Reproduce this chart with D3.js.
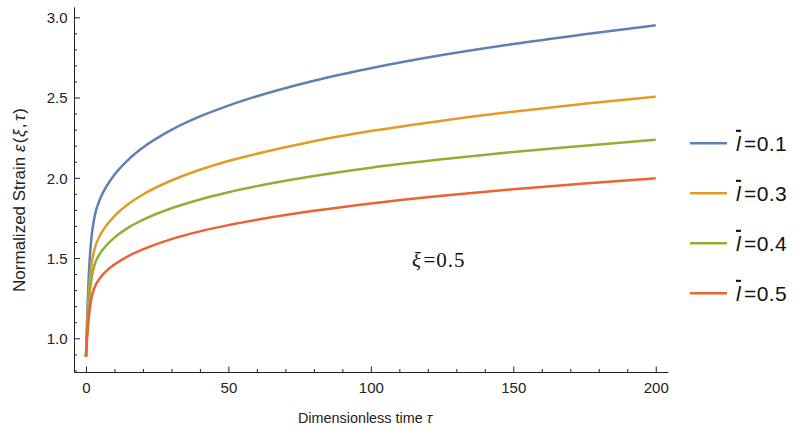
<!DOCTYPE html>
<html>
<head>
<meta charset="utf-8">
<script src="https://cdn.jsdelivr.net/npm/d3@7"></script>
<style>
  html, body { margin: 0; padding: 0; background: #fff; }
  svg { display: block; }
  .tick text { font-family: "Liberation Sans", Arial, sans-serif; font-size: 15px; fill: #222; }
</style>
</head>
<body>
<svg id="chart" width="797" height="434"></svg>
<script>
// Dimensionless time samples
const tau = [0, 0.25, 0.5, 1, 2, 3, 5, 7.5, 10, 15, 20, 30, 40, 50, 60, 80, 100, 125, 150, 175, 200];

// Normalized strain for each bar-l value
const strainL01 = [0.885, 1.031, 1.175, 1.396, 1.639, 1.756, 1.870, 1.955, 2.019, 2.115, 2.188, 2.298, 2.382, 2.450, 2.508, 2.605, 2.683, 2.765, 2.834, 2.894, 2.950];
const strainL03 = [0.885, 0.995, 1.106, 1.275, 1.464, 1.554, 1.643, 1.711, 1.761, 1.838, 1.896, 1.983, 2.050, 2.105, 2.150, 2.228, 2.291, 2.356, 2.412, 2.461, 2.505];
const strainL04 = [0.885, 0.980, 1.075, 1.219, 1.378, 1.456, 1.530, 1.585, 1.627, 1.691, 1.738, 1.810, 1.865, 1.910, 1.948, 2.011, 2.063, 2.115, 2.161, 2.200, 2.237];
const strainL05 = [0.885, 0.953, 1.023, 1.132, 1.256, 1.316, 1.378, 1.425, 1.460, 1.514, 1.554, 1.618, 1.666, 1.705, 1.738, 1.794, 1.840, 1.888, 1.929, 1.965, 1.997];

const seriesNames = ["0.1", "0.3", "0.4", "0.5"];
const seriesValues = [strainL01, strainL03, strainL04, strainL05];
const seriesColors = ["#5E81B5", "#E19C24", "#8FB032", "#EB6235"];

// Axis ticks
const xMajorTicks = [0, 50, 100, 150, 200];
const xMinorTicks = d3.range(0, 201, 10).filter(v => v % 50 !== 0);
const yMajorTicks = [1.0, 1.5, 2.0, 2.5, 3.0];
const yMinorTicks = d3.range(8, 31).map(v => v / 10).filter(v => Math.round(v * 10) % 5 !== 0);

const svg = d3.select("#chart");

const x = d3.scaleLinear().domain([-4.2, 204.2]).range([74, 667.7]);
const y = d3.scaleLinear().domain([0.79, 3.064]).range([372, 7]);

const axisColor = "#222";

function styleAxis(g) {
  g.selectAll(".domain").attr("stroke", axisColor).attr("stroke-width", 1);
  g.selectAll(".tick line").attr("stroke", axisColor).attr("stroke-width", 1);
}

// x axis: minor then major ticks, pointing into the plot
svg.append("g")
  .attr("transform", `translate(0,${y.range()[0]})`)
  .call(d3.axisBottom(x).tickValues(xMinorTicks).tickSize(-3).tickSizeOuter(0).tickFormat(""))
  .call(styleAxis);
const gx = svg.append("g")
  .attr("transform", `translate(0,${y.range()[0]})`)
  .call(d3.axisBottom(x).tickValues(xMajorTicks).tickSize(-5.5).tickSizeOuter(0).tickPadding(0).tickFormat(d3.format("d")))
  .call(styleAxis);
gx.selectAll(".tick text").attr("y", 20.5).attr("dy", 0);

// y axis
svg.append("g")
  .attr("transform", `translate(${x.range()[0]},0)`)
  .call(d3.axisLeft(y).tickValues(yMinorTicks).tickSize(-3).tickSizeOuter(0).tickFormat(""))
  .call(styleAxis);
const gy = svg.append("g")
  .attr("transform", `translate(${x.range()[0]},0)`)
  .call(d3.axisLeft(y).tickValues(yMajorTicks).tickSize(-6).tickSizeOuter(0).tickFormat(d3.format(".1f")))
  .call(styleAxis);
gy.selectAll(".tick text").attr("x", -6.5).attr("dy", "0.36em");

// Curves
const line = d3.line()
  .x((d, i) => x(tau[i]))
  .y(d => y(d))
  .curve(d3.curveMonotoneX);

const plot = svg.append("g");
seriesValues.forEach((vals, k) => {
  plot.append("path")
    .datum(vals)
    .attr("d", line)
    .attr("fill", "none")
    .attr("stroke", seriesColors[k])
    .attr("stroke-width", 2.5)
    .attr("stroke-linejoin", "round");
});

// Axis titles
const sans = "'Liberation Sans', Arial, sans-serif";
const xt = svg.append("text")
  .attr("x", 365).attr("y", 423)
  .attr("text-anchor", "middle")
  .attr("font-family", sans).attr("font-size", 14.4).attr("fill", "#222");
xt.append("tspan").text("Dimensionless time ");
xt.append("tspan").attr("font-style", "italic").text("τ");

const yt = svg.append("text")
  .attr("transform", "translate(25,200) rotate(-90)")
  .attr("text-anchor", "middle")
  .attr("font-family", sans).attr("font-size", 17).attr("fill", "#222");
yt.append("tspan").text("Normalized Strain ");
yt.append("tspan").attr("font-style", "italic").text("ε");
yt.append("tspan").attr("dx", 1.5).text("(");
yt.append("tspan").attr("dx", 0.5).attr("font-style", "italic").text("ξ");
yt.append("tspan").attr("dx", 1).text(",");
yt.append("tspan").attr("dx", 2.5).attr("font-style", "italic").text("τ");
yt.append("tspan").attr("dx", 1).text(")");

// Parameter annotation
const ann = svg.append("text")
  .attr("x", 412).attr("y", 267)
  .attr("font-family", "'Liberation Serif', 'Times New Roman', serif")
  .attr("font-size", 21).attr("fill", "#111")
  .attr("letter-spacing", 1);
ann.append("tspan").attr("font-style", "italic").text("ξ");
ann.append("tspan").attr("dx", 1.5).text("=0.5");

// Legend
const legend = svg.append("g");
seriesNames.forEach((name, k) => {
  const ly = 143.3 + k * 50;
  legend.append("line")
    .attr("x1", 690).attr("x2", 727)
    .attr("y1", ly).attr("y2", ly)
    .attr("stroke", seriesColors[k]).attr("stroke-width", 2.5);
  const t = legend.append("text")
    .attr("x", 736).attr("y", ly + 7.5)
    .attr("font-family", sans).attr("font-size", 21).attr("fill", "#111")
    .attr("letter-spacing", 0.4);
  t.append("tspan").attr("font-style", "italic").attr("text-decoration", "overline").text("l");
  t.append("tspan").attr("dx", 3).text("=" + name);
});
</script>
</body>
</html>
